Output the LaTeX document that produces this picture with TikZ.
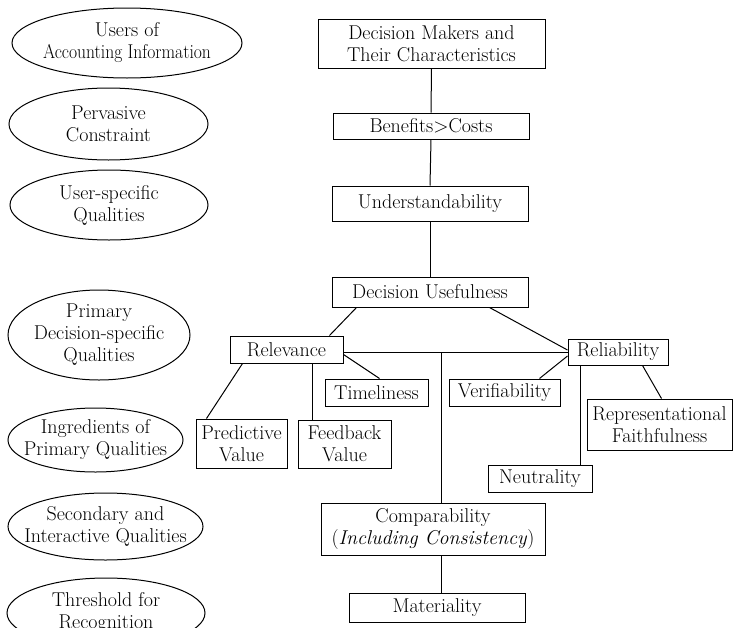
\documentclass[tikz,border=0pt]{standalone}
\usepackage{graphicx}
\usetikzlibrary{shapes.geometric,calc}
\begin{document}
\begin{tikzpicture}[x=1pt,y=-1pt,line width=1pt,
  txt/.style={font=\fontsize{20}{22}\selectfont,align=center,inner sep=0pt},
  bx/.style={txt,draw,rectangle},
  el/.style={draw,ellipse,inner sep=0pt}]
\useasboundingbox (0,0) rectangle (733,627);
% left ellipses
\node[el,minimum width=230pt,minimum height=70pt] (e1) at (127,43) {};
\node[txt] (t1) at (e1) {Users of\\\scalebox{0.88}[1]{Accounting Information}};
\node[el,minimum width=199pt,minimum height=72pt] (e2) at (108.5,124) {};
\node[txt] (t2) at (e2) {Pervasive\\Constraint};
\node[el,minimum width=198pt,minimum height=70pt] (e3) at (109,205) {};
\node[txt] (t3) at (e3) {User-specific\\Qualities};
\node[el,minimum width=182pt,minimum height=90pt] (e4) at (99,335) {};
\node[txt] (t4) at (e4) {Primary\\Decision-specific\\Qualities};
\node[el,minimum width=175pt,minimum height=64pt] (e5) at (95.5,440) {};
\node[txt] (t5) at (e5) {Ingredients of\\Primary Qualities};
\node[el,minimum width=195pt,minimum height=67pt] (e6) at (105.5,526.5) {};
\node[txt] (t6) at (e6) {Secondary and\\Interactive Qualities};
\begin{scope}
\clip (0,0) rectangle (733,627);
\node[el,minimum width=198pt,minimum height=70pt] (e7) at (106,613) {};
\node[txt] (t7) at (e7) {Threshold for\\Recognition};
\end{scope}
% boxes
\node[bx,minimum width=227pt,minimum height=49pt] (dm) at (431.5,43.5) {Decision Makers and\\Their Characteristics};
\node[bx,minimum width=196pt,minimum height=26pt] (bc) at (431,126) {Benefits>Costs};
\node[bx,minimum width=196pt,minimum height=35pt] (und) at (430,203.5) {Understandability};
\node[bx,minimum width=196pt,minimum height=30pt] (du) at (430,292) {Decision Usefulness};
\node[bx,minimum width=113pt,minimum height=27pt] (rel) at (286.5,349.5) {Relevance};
\node[bx,minimum width=100pt,minimum height=26pt] (rlb) at (618,352) {Reliability};
\node[bx,minimum width=103pt,minimum height=27pt] (tim) at (376.5,392.5) {Timeliness};
\node[bx,minimum width=111pt,minimum height=27pt] (ver) at (504.5,392.5) {Verifiability};
\node[bx,minimum width=91pt,minimum height=49pt] (pv) at (241.5,443.5) {Predictive\\Value};
\node[bx,minimum width=93pt,minimum height=48pt] (fv) at (344.5,444) {Feedback\\Value};
\node[bx,minimum width=145pt,minimum height=51pt] (rf) at (659.5,424.5) {Representational\\Faithfulness};
\node[bx,minimum width=104pt,minimum height=27pt] (neu) at (540,478.5) {Neutrality};
\node[bx,minimum width=224pt,minimum height=52pt] (comp) at (433,529) {Comparability\\(\textit{Including Consistency})};
\node[bx,minimum width=176pt,minimum height=29pt] (mat) at (437,607.5) {Materiality};
% connectors
\coordinate (J) at (441,352);
\draw (dm.south) -- (bc.north);
\draw (bc.south) -- (und.north);
\draw (und.south) -- (du.north);
\draw ([xshift=25pt]du.south west) -- ([xshift=100pt]rel.north west);
\draw ([xshift=158pt]du.south west) -- ([yshift=2pt]rlb.west);
\draw (rlb.west -| rel.east) -- (rlb.west);
\draw (J) -- (J |- comp.north);
\draw (comp.south -| J) -- (mat.north -| J);
\draw ([yshift=-5pt]rel.east) -- ([xshift=55pt]tim.north west);
\draw ([xshift=13pt]rel.south west) -- ([xshift=11pt]pv.north west);
\draw ([xshift=83pt]rel.south west) coordinate (fa) -- (fa |- fv.north);
\draw ([xshift=91pt]ver.north west) -- ([yshift=-4pt]rlb.west);
\draw ([xshift=13pt]rlb.south west) coordinate (na) -- (na |- neu.north);
\draw ([xshift=75pt]rlb.south west) -- ([xshift=75pt]rf.north west);
\end{tikzpicture}
\end{document}
